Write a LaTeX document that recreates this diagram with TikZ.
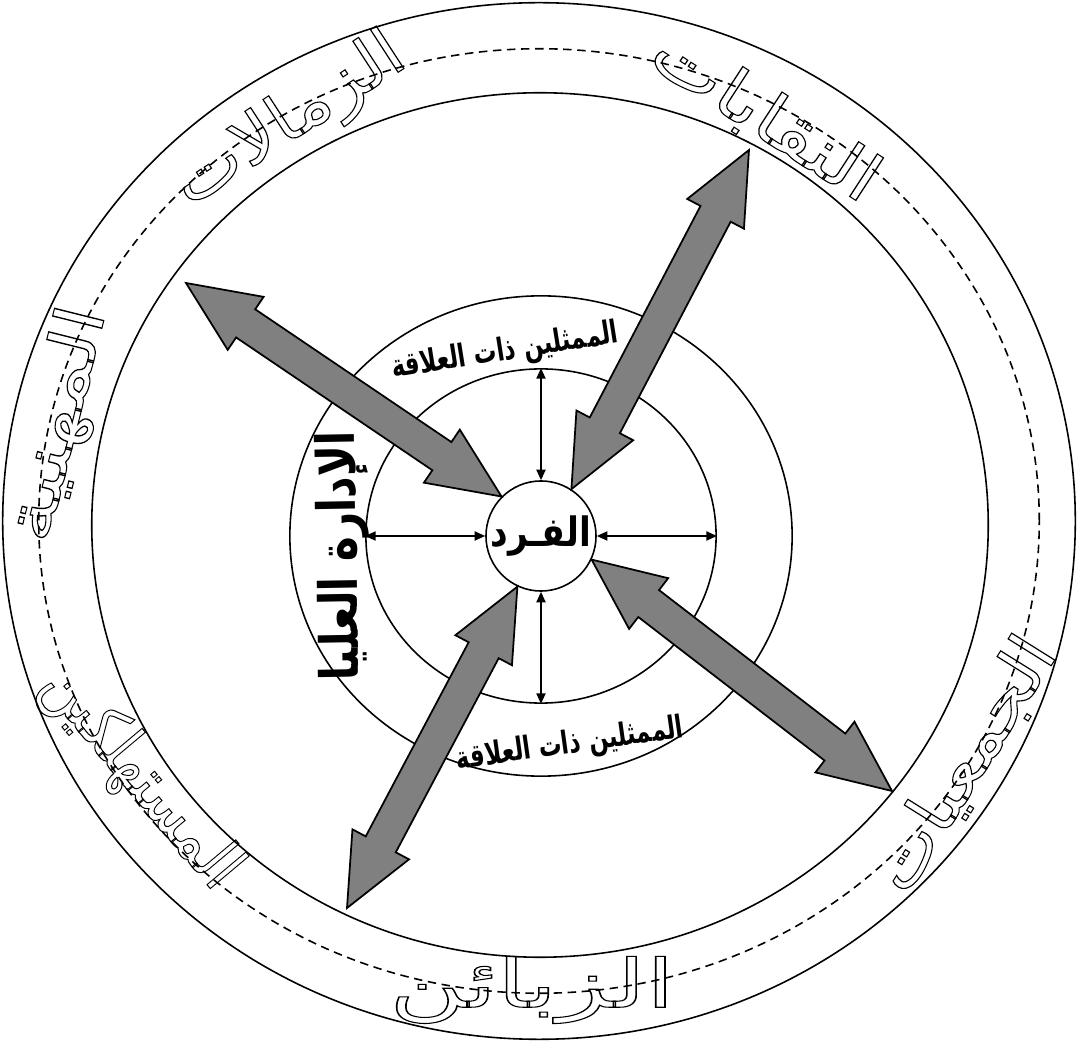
\documentclass[tikz,border=0pt]{standalone}
\usepackage{fontspec}
\usepackage{xcolor}
\usepackage{graphicx}
\usepackage{tikz}
\usetikzlibrary{arrows.meta,positioning,calc,shapes.geometric}
\TeXXeTstate=1
\newfontfamily\arabicfont[Script=Arabic]{DejaVu Sans}
\newcommand\ar[2]{\scalebox{#1}[1]{#2}}
\newcommand\hollow[2]{\special{pdf:literal direct 1 Tr 0.3 w [] 0 d}\ar{#1}{#2}\special{pdf:literal direct 0 Tr 0.4 w}}
\newcommand\fatarrow[2]{%
  \filldraw[fatarr] (#1)
    -- ($(#1)!0.72cm!(#2)!0.32cm!90:(#2)$)
    -- ($(#1)!0.72cm!(#2)!0.17cm!90:(#2)$)
    -- ($(#2)!0.72cm!(#1)!0.17cm!-90:(#1)$)
    -- ($(#2)!0.72cm!(#1)!0.32cm!-90:(#1)$)
    -- (#2)
    -- ($(#2)!0.72cm!(#1)!0.32cm!90:(#1)$)
    -- ($(#2)!0.72cm!(#1)!0.17cm!90:(#1)$)
    -- ($(#1)!0.72cm!(#2)!0.17cm!-90:(#2)$)
    -- ($(#1)!0.72cm!(#2)!0.32cm!-90:(#2)$)
    -- cycle;}
\definecolor{arrgray}{RGB}{128,128,128}
\tikzset{
  ringbox/.style ={ellipse, draw, line width=0.45pt, inner sep=0pt,
                   minimum width=#1},
  dashbox/.style ={ringbox=#1, dash pattern=on 2.4pt off 1.6pt},
  fardbox/.style ={circle, draw, line width=0.45pt, fill=white,
                   minimum size=1.1cm, inner sep=0pt,
                   font=\arabicfont\bfseries\fontsize{11.5}{11.5}\selectfont},
  intext/.style  ={inner sep=0pt,
                   font=\arabicfont\bfseries\fontsize{9}{9}\selectfont},
  lefttext/.style={inner sep=0pt,
                   font=\arabicfont\bfseries\fontsize{15}{15}\selectfont},
  outtext/.style ={inner sep=0pt,
                   font=\arabicfont\fontsize{19}{19}\selectfont},
  sarr/.style    ={{Triangle[length=3pt,width=2.6pt]}-{Triangle[length=3pt,width=2.6pt]},
                   line width=0.45pt},
  fatarr/.style  ={draw=black, fill=arrgray, line width=0.5pt, line join=miter},
}

\begin{document}
\begin{tikzpicture}[x=0.01cm,y=-0.01cm]
  \useasboundingbox (0,0) rectangle (1078,1043);
  \node[ringbox=10.72cm, minimum height=10.36cm] (outer) at (539,521) {};
  \node[dashbox=10.0cm, minimum height=9.44cm]   (mid)   at (539,521) {};
  \node[ringbox=8.96cm, minimum height=8.64cm]   (inner) at (540,525) {};
  \node[ringbox=5.02cm, minimum height=4.80cm]   (ring3) at (541,536) {};
  \node[ringbox=3.50cm, minimum height=3.34cm]   (ring2) at (541,536) {};
  \node[fardbox] (fard) at (541,536) {\ar{0.85}{\beginR الفـرد\endR}};

  \node[intext, rotate=9]    (memtop) at (505,352) {\ar{0.72}{\beginR الممثلين ذات العلاقة\endR}};
  \node[intext, rotate=8]    (membot) at (570,745) {\ar{0.72}{\beginR الممثلين ذات العلاقة\endR}};
  \node[lefttext, rotate=91] (idara)  at (343,556) {\ar{0.8}{\beginR الإدارة العليا\endR}};

  \node[outtext, rotate=-33] (naqabat) at (765,117) {\hollow{1.2}{\beginR النقابات\endR}};
  \node[outtext, rotate=33]  (zamalat) at (290,122) {\hollow{1.13}{\beginR الزمالات\endR}};
  \node[outtext, rotate=76]  (mihnia)  at (60,425)  {\hollow{1.3}{\beginR المهنية\endR}};
  \node[outtext, rotate=-50] (mustahl) at (140,778) {\hollow{0.85}{\beginR المستهلكين\endR}};
  \node[outtext]             (zabaen)  at (532,990) {\hollow{1.55}{\beginR الزبائن\endR}};
  \node[outtext, rotate=58]  (jamiat)  at (965,765) {\hollow{1.12}{\beginR الجمعيات\endR}};

  \draw[sarr] (fard.north) -- (ring2.north);
  \draw[sarr] (fard.south) -- (ring2.south);
  \draw[sarr] (fard.west)  -- (ring2.west);
  \draw[sarr] (fard.east)  -- (ring2.east);

  \coordinate (tipnw) at (186,283);
  \coordinate (tipne) at (749,150);
  \coordinate (tipsw) at (347,908);
  \coordinate (tipse) at (892,791);
  \fatarrow{fard.135}{tipnw}
  \fatarrow{fard.57}{tipne}
  \fatarrow{fard.245}{tipsw}
  \fatarrow{fard.-25}{tipse}
\end{tikzpicture}
\end{document}
